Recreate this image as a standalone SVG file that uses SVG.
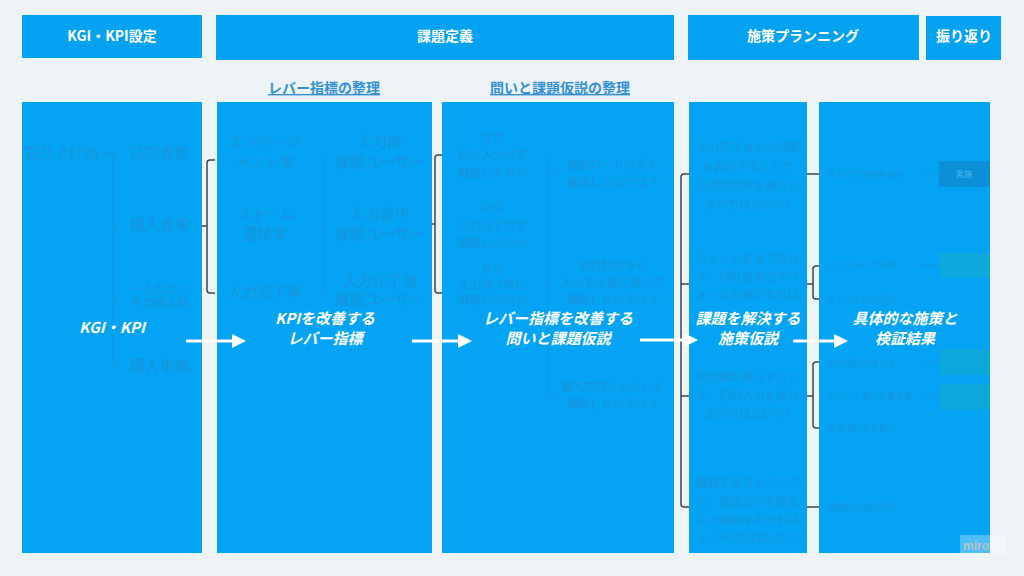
<svg xmlns="http://www.w3.org/2000/svg" width="1024" height="576" viewBox="0 0 1024 576">
<defs>
<style>
.bg{fill:#eef3f8}
.hdr{fill:#05a2f1}
.col{fill:#05a3f3}
.ht{font-family:"Noto Sans CJK JP","Liberation Sans",sans-serif;font-weight:700;font-size:14px;fill:#ffffff;text-anchor:middle}
.sub{font-family:"Noto Sans CJK JP","Liberation Sans",sans-serif;font-weight:700;font-size:14px;fill:#3392d6;text-anchor:middle;text-decoration:underline}
.lbl{font-family:"Noto Sans CJK JP","Liberation Sans",sans-serif;font-weight:700;font-style:italic;font-size:15px;fill:#ffffff;text-anchor:middle}
.f{font-family:"Noto Sans CJK JP","Liberation Sans",sans-serif;fill:#1895db;text-anchor:middle}
.f15{font-size:15px}
.f11{font-size:11.5px}
.f8{font-size:8.5px;text-anchor:start}
.fl{stroke:#1895db;stroke-width:1;fill:none}
.br{stroke:#3d4650;stroke-width:1.5;fill:none}
.arr{stroke:#ffffff;stroke-width:3;fill:none}
.ah{fill:#ffffff}
</style>
</defs>
<rect class="bg" x="0" y="0" width="1024" height="576"/>

<g id="headers">
<g id="h-kgi"><rect class="hdr" x="22" y="15" width="180" height="43"/><text class="ht" x="112" y="41">KGI・KPI設定</text></g>
<g id="h-kadai"><rect class="hdr" x="216" y="15" width="458" height="45"/><text class="ht" x="445" y="41">課題定義</text></g>
<g id="h-shisaku"><rect class="hdr" x="688" y="15" width="231" height="45"/><text class="ht" x="803" y="41">施策プランニング</text></g>
<g id="h-furikaeri"><rect class="hdr" x="926" y="16" width="75" height="44"/><text class="ht" x="964" y="41">振り返り</text></g>
</g>

<g id="subheaders">
<text class="sub" x="324" y="93">レバー指標の整理</text>
<text class="sub" x="560" y="93">問いと課題仮説の整理</text>
</g>

<g id="connectors">
<path class="br" d="M202,226 H207 M215,160 H210 Q207,160 207,163 V290 Q207,293 210,293 H215"/>
<path class="br" d="M432,224 H435 M442,155 H438 Q435,155 435,158 V290 Q435,293 438,293 H442"/>
<path class="br" d="M689,174 H684 Q681,174 681,177 V504 Q681,507 684,507 H689 M681,284 H689 M681,396 H689"/>
<path class="br" d="M807,174 H819"/>
<path class="br" d="M807,284 H813 M819,266 H816 Q813,266 813,269 V296 Q813,299 816,299 H819"/>
<path class="br" d="M807,396 H813 M819,362 H816 Q813,362 813,365 V425 Q813,428 816,428 H819"/>
<path class="br" d="M807,507 H819"/>
</g>

<g id="col1">
<rect class="col" x="22" y="102" width="180" height="451"/>
<text class="f f15" x="62" y="158">売り上げ高</text>
<path class="fl" d="M101,153 H113 M113,153 V367 M113,153 H120 M113,225 H120 M113,297 H120 M113,367 H120"/>
<text class="f f15" x="160" y="158">訪問者数</text>
<text class="f f15" x="160" y="230">購入者率</text>
<text class="f f11" x="160" y="293">一人当たり</text>
<text class="f f11" x="160" y="307">平均購入数</text>
<text class="f f15" x="160" y="371">購入単価</text>
<text class="lbl" x="112" y="333">KGI・KPI</text>
</g>

<g id="col2">
<rect class="col" x="217" y="102" width="215" height="451"/>
<text class="f f15" x="265" y="147">エンゲージ</text>
<text class="f f15" x="265" y="167">メント率</text>
<text class="f f15" x="265" y="219">フォーム</text>
<text class="f f15" x="265" y="239">遷移率</text>
<text class="f f15" x="265" y="297">入力完了率</text>
<path class="fl" d="M325,155 V293 M318,293 H325 M318,225 H325 M325,155 H330"/>
<text class="f f15" x="380" y="147">入力前</text>
<text class="f f15" x="380" y="167">離脱ユーザー</text>
<text class="f f15" x="380" y="219">入力途中</text>
<text class="f f15" x="380" y="239">離脱ユーザー</text>
<text class="f f15" x="380" y="286">入力完了後</text>
<text class="f f15" x="380" y="305">離脱ユーザー</text>
<text class="lbl" x="325" y="324">KPIを改善する</text>
<text class="lbl" x="325" y="344">レバー指標</text>
</g>

<g id="col3">
<rect class="col" x="442" y="102" width="232" height="451"/>
<text class="f f11" x="493" y="141">なぜ</text>
<text class="f f11" x="493" y="159">何も入力せず</text>
<text class="f f11" x="493" y="177">離脱したのか</text>
<text class="f f11" x="493" y="211">なぜ</text>
<text class="f f11" x="493" y="229">入力完了せず</text>
<text class="f f11" x="493" y="247">離脱したのか</text>
<text class="f f11" x="493" y="273">なぜ</text>
<text class="f f11" x="493" y="289">入力完了後に</text>
<text class="f f11" x="493" y="304">離脱したのか</text>
<path class="fl" d="M548,155 V397 M548,173 H558 M545,285 H555 M548,397 H558"/>
<text class="f f11" x="613" y="169">画面ロードが長く</text>
<text class="f f11" x="613" y="187">離脱したのでは？</text>
<text class="f f11" x="613" y="270">項目数が多く</text>
<text class="f f11" x="613" y="287">入力を手間に感じて</text>
<text class="f f11" x="613" y="304">離脱したのでは？</text>
<text class="f f11" x="613" y="391">購入意向じゃないと</text>
<text class="f f11" x="613" y="408">離脱したのでは？</text>
<text class="lbl" x="558" y="324">レバー指標を改善する</text>
<text class="lbl" x="558" y="344">問いと課題仮説</text>
</g>

<g id="col4">
<rect class="col" x="689" y="102" width="118" height="451"/>
<text class="f f11" x="748" y="152">入力完了までの時間</text>
<text class="f f11" x="748" y="171">を表示することで</text>
<text class="f f11" x="748" y="190">心理的負担を減らせ</text>
<text class="f f11" x="748" y="209">るのではないか?</text>
<text class="f f11" x="748" y="263">フォームを全て見せ</text>
<text class="f f11" x="748" y="281">ず、1問1答形式でフ</text>
<text class="f f11" x="748" y="299">ォームを表示すれば</text>
<text class="f f11" x="748" y="381">項目数を減らすこと</text>
<text class="f f11" x="748" y="400">で、初回入力を促せ</text>
<text class="f f11" x="748" y="418">るのではないか?</text>
<text class="f f11" x="748" y="487">離脱するタイミング</text>
<text class="f f11" x="748" y="506">で、電話など手軽な</text>
<text class="f f11" x="748" y="524">入力補助を出せれば</text>
<text class="f f11" x="748" y="542">いいのではないか?</text>
<text class="lbl" x="748" y="324">課題を解決する</text>
<text class="lbl" x="748" y="344">施策仮説</text>
</g>

<g id="col5">
<rect class="col" x="819" y="102" width="171" height="451"/>
<text class="f f8" x="828" y="177">入力完了時間を表示</text>
<path class="fl" d="M920,174 H939"/>
<rect x="939" y="161" width="51" height="26" fill="#0b8fd6"/>
<text class="f" x="964" y="177" font-size="8.5" style="fill:#4bb8f0">実施</text>
<text class="f f8" x="828" y="268">入力ステップ分割</text>
<path class="fl" d="M920,265 H940"/>
<rect x="940" y="253" width="50" height="25" fill="#0eaade"/>
<text class="f f8" x="828" y="302">チャット形式導入</text>
<text class="f f8" x="828" y="366">必須項目数減らす</text>
<path class="fl" d="M920,362 H940"/>
<rect x="940" y="349" width="50" height="26" fill="#0ca8dc"/>
<text class="f f8" x="828" y="399">ボタン・表示位置変更</text>
<path class="fl" d="M920,395 H940"/>
<rect x="940" y="384" width="50" height="26" fill="#0ca8dc"/>
<text class="f f8" x="828" y="431">任意項目を非表示</text>
<text class="f f8" x="828" y="510">離脱時に電話誘導</text>
<text class="lbl" x="905" y="324">具体的な施策と</text>
<text class="lbl" x="905" y="344">検証結果</text>
</g>

<g id="arrows">
<path class="arr" d="M186,341 H234"/><polygon class="ah" points="232,334 246,341 232,348"/>
<path class="arr" d="M412,341 H460"/><polygon class="ah" points="458,334 472,341 458,348"/>
<path class="arr" d="M640,340 H686"/><polygon class="ah" points="684,333 698,340 684,347"/>
<path class="arr" d="M793,341 H836"/><polygon class="ah" points="834,334 848,341 834,348"/>
</g>

<g id="watermark">
<rect x="960" y="535" width="46" height="20" fill="#ffffff" opacity="0.3"/>
<text x="963" y="550" font-family="'Liberation Sans',sans-serif" font-size="12" font-weight="700" fill="#b8c2cc">miro</text>
</g>
</svg>
